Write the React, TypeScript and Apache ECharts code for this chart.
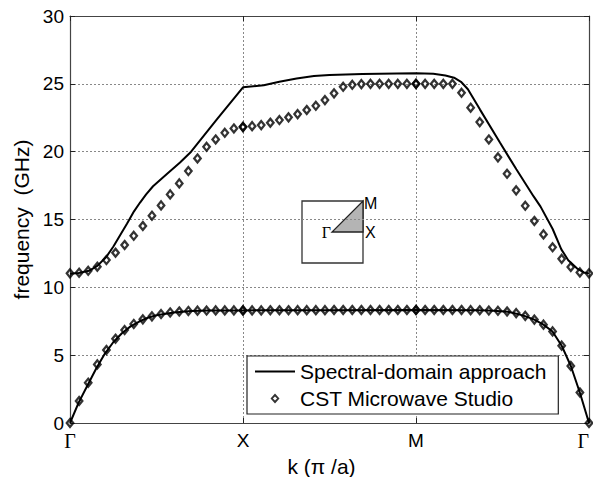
import React, { useEffect, useRef } from 'react';
import * as echarts from 'echarts';

// x positions: 0 = Γ, 1 = X, 2 = M, 3 = Γ
const xTickLabels = ['Γ', 'X', 'M', 'Γ'];

// CST Microwave Studio (diamonds), 20 samples per segment incl. both ends
const cstLowerGX = [0, 1.62, 2.97, 4.32, 5.38, 6.21, 6.85, 7.3, 7.64, 7.86, 8.03, 8.15, 8.22, 8.26, 8.28, 8.29, 8.3, 8.3, 8.3, 8.3];
const cstLowerXM = [8.3, 8.3, 8.3, 8.31, 8.31, 8.31, 8.32, 8.32, 8.32, 8.32, 8.33, 8.33, 8.33, 8.33, 8.33, 8.33, 8.33, 8.33, 8.33, 8.33];
const cstLowerMG = [8.33, 8.33, 8.33, 8.33, 8.33, 8.33, 8.32, 8.31, 8.29, 8.27, 8.22, 8.1, 7.9, 7.62, 7.25, 6.75, 5.7, 4.2, 2.25, 0];
const cstUpperGX = [11.03, 11.08, 11.22, 11.52, 12.01, 12.55, 13.12, 13.8, 14.52, 15.28, 16.04, 16.85, 17.66, 18.57, 19.5, 20.36, 20.9, 21.39, 21.71, 21.81];
const cstUpperXM = [21.83, 21.88, 21.96, 22.13, 22.33, 22.53, 22.77, 23.07, 23.38, 23.8, 24.3, 24.78, 24.93, 24.98, 25.0, 25.0, 25.0, 25.0, 25.0, 25.0];
const cstUpperMG = [25.0, 25.0, 25.0, 25.0, 25.0, 24.34, 23.24, 22.18, 20.9, 19.58, 18.37, 17.15, 16.01, 14.89, 13.9, 12.95, 12.1, 11.5, 11.1, 11.03];

// Spectral-domain approach (solid lines), [k, f]
const spectralLower: [number, number][] = [
  [0, 0], [0.05, 1.5], [0.1, 2.75], [0.15, 3.98], [0.2, 5.08], [0.25, 5.95], [0.3, 6.62], [0.35, 7.12],
  [0.4, 7.48], [0.45, 7.76], [0.5, 7.94], [0.6, 8.15], [0.7, 8.25], [0.8, 8.29], [1.0, 8.3], [1.5, 8.32],
  [2.0, 8.33], [2.35, 8.32], [2.45, 8.28], [2.53, 8.2], [2.58, 8.06], [2.63, 7.88], [2.684, 7.62],
  [2.737, 7.25], [2.789, 6.75], [2.842, 5.7], [2.895, 4.2], [2.947, 2.25], [3.0, 0],
];
const spectralUpper: [number, number][] = [
  [0, 11.0], [0.05, 11.05], [0.11, 11.22], [0.16, 11.6], [0.21, 12.25], [0.25, 12.99], [0.33, 14.7],
  [0.37, 15.6], [0.405, 16.25], [0.44, 16.85], [0.48, 17.45], [0.56, 18.35], [0.636, 19.2], [0.7, 20.0],
  [0.85, 22.4], [1.0, 24.74], [1.12, 24.9], [1.21, 25.15], [1.31, 25.4], [1.41, 25.57], [1.5, 25.65],
  [1.69, 25.72], [1.89, 25.77], [2.0, 25.78], [2.1, 25.74], [2.17, 25.62], [2.22, 25.45], [2.26, 25.15],
  [2.3, 24.6], [2.37, 23.1], [2.486, 20.65], [2.58, 18.7], [2.68, 16.7], [2.72, 15.95], [2.79, 14.3],
  [2.84, 12.8], [2.88, 12.0], [2.93, 11.4], [2.97, 11.1], [3.0, 11.03],
];

function segmentPoints(segs: number[][]): [number, number][] {
  const out: [number, number][] = [];
  segs.forEach((vals, s) => {
    vals.forEach((v, i) => out.push([s + i / (vals.length - 1), v]));
  });
  return out;
}

const SANS = 'Liberation Sans, Arial, sans-serif';
const SERIF = 'Liberation Serif, Times New Roman, serif';

// legend icons (kept to aspect inside the item box)
const LINE_ICON = 'path://M0,0 H40 V2 H0 Z';
const DIAMOND_ICON = 'path://M4.5,0 L9,5 L4.5,10 L0,5 Z M4.5,2.9 L2.4,5 L4.5,7.1 L6.6,5 Z';

export default function App() {
  const ref = useRef<HTMLDivElement>(null);
  useEffect(() => {
    if (!ref.current) return;
    document.body.style.margin = '0';
    const chart = echarts.init(ref.current, undefined, { renderer: 'svg' });
    const cst = [
      ...segmentPoints([cstLowerGX, cstLowerXM, cstLowerMG]),
      ...segmentPoints([cstUpperGX, cstUpperXM, cstUpperMG]),
    ];
    const frameColor = '#444';
    const gridLine = { show: true, lineStyle: { color: '#888', type: [2, 2] as any, width: 1 } };
    const xLabelFmt = (v: number) => {
      const t = xTickLabels[Math.round(v)];
      return t === 'Γ' ? '{g|Γ}' : '{s|' + t + '}';
    };
    chart.setOption({
      animation: false,
      backgroundColor: '#fff',
      grid: { left: 70, top: 16, right: 4, bottom: 54, outerBoundsMode: 'none', containLabel: false },
      xAxis: [
        {
          type: 'value', min: 0, max: 3, interval: 1, position: 'bottom',
          axisLine: { show: true, onZero: false, lineStyle: { color: frameColor, width: 1.2 } },
          axisTick: { show: true, inside: true, length: 5, lineStyle: { color: '#222' } },
          axisLabel: {
            margin: 8, formatter: xLabelFmt, alignMaxLabel: 'right',
            rich: {
              g: { fontFamily: SERIF, fontSize: 20, color: '#000' },
              s: { fontFamily: SANS, fontSize: 19, color: '#000' },
            },
          },
          splitLine: gridLine,
          name: 'k (π /a)', nameLocation: 'middle', nameGap: 29,
          nameTextStyle: { fontFamily: SANS, fontSize: 21, color: '#000', padding: [0, 16, 0, 0] },
        },
        {
          type: 'value', min: 0, max: 3, interval: 1, position: 'top',
          axisLine: { show: true, onZero: false, lineStyle: { color: frameColor, width: 1.2 } },
          axisTick: { show: true, inside: true, length: 5, lineStyle: { color: '#222' } },
          axisLabel: { show: false }, splitLine: { show: false },
        },
      ],
      yAxis: [
        {
          type: 'value', min: 0, max: 30, interval: 5, position: 'left',
          axisLine: { show: true, onZero: false, lineStyle: { color: frameColor, width: 1.2 } },
          axisTick: { show: true, inside: true, length: 5, lineStyle: { color: '#222' } },
          axisLabel: { margin: 6, fontFamily: SANS, fontSize: 19, color: '#000' },
          splitLine: gridLine,
          name: 'frequency  (GHz)', nameLocation: 'middle', nameGap: 33, nameRotate: 90,
          nameTextStyle: { fontFamily: SANS, fontSize: 21, color: '#000' },
        },
        {
          type: 'value', min: 0, max: 30, interval: 5, position: 'right',
          axisLine: { show: true, onZero: false, lineStyle: { color: frameColor, width: 1.2 } },
          axisTick: { show: true, inside: true, length: 5, lineStyle: { color: '#222' } },
          axisLabel: { show: false }, splitLine: { show: false },
        },
      ],
      legend: {
        left: 247, top: 356, orient: 'vertical', selectedMode: false,
        itemWidth: 40, itemHeight: 10, itemGap: 6,
        padding: [5, 12, 5, 8],
        symbolKeepAspect: true,
        borderColor: '#222', borderWidth: 1.2, backgroundColor: '#fff',
        textStyle: { fontFamily: SANS, fontSize: 21, color: '#000' },
        data: [
          { name: 'Spectral-domain approach', icon: LINE_ICON, itemStyle: { color: '#000', borderWidth: 0 }, lineStyle: { width: 0 } },
          { name: 'CST Microwave Studio', icon: DIAMOND_ICON, itemStyle: { color: '#000', borderWidth: 0 } },
        ],
      },
      series: [
        {
          name: 'Spectral-domain approach', type: 'line', data: spectralLower, symbol: 'none',
          lineStyle: { color: '#000', width: 2 }, itemStyle: { color: '#000' }, z: 3,
        },
        {
          name: 'Spectral-domain approach', type: 'line', data: spectralUpper, symbol: 'none',
          lineStyle: { color: '#000', width: 2 }, itemStyle: { color: '#000' }, z: 3,
        },
        {
          name: 'CST Microwave Studio', type: 'scatter', data: cst, symbol: 'diamond',
          symbolSize: [6.5, 8],
          itemStyle: { color: 'rgba(255,255,255,0)', borderColor: '#000', borderWidth: 2.3 }, z: 4,
        },
      ],
      graphic: [
        {
          type: 'group', z: 10,
          children: [
            { type: 'rect', shape: { x: 302, y: 201, width: 61, height: 62 }, style: { fill: '#fff', stroke: '#333', lineWidth: 1.3 } },
            { type: 'polygon', shape: { points: [[332, 232], [363, 232], [363, 201]] }, style: { fill: '#b4b4b4', stroke: '#222', lineWidth: 1.3 } },
            { type: 'text', x: 364, y: 203, style: { text: 'M', font: '16px ' + SANS, fill: '#000', verticalAlign: 'middle', align: 'left' } },
            { type: 'text', x: 365, y: 232, style: { text: 'X', font: '16px ' + SANS, fill: '#000', verticalAlign: 'middle', align: 'left' } },
            { type: 'text', x: 331, y: 232, style: { text: 'Γ', font: '16px ' + SERIF, fill: '#000', verticalAlign: 'middle', align: 'right' } },
          ],
        },
      ],
    });
    return () => chart.dispose();
  }, []);
  return <div ref={ref} style={{ width: 593, height: 477, position: 'absolute', left: 0, top: 0 }} />;
}
